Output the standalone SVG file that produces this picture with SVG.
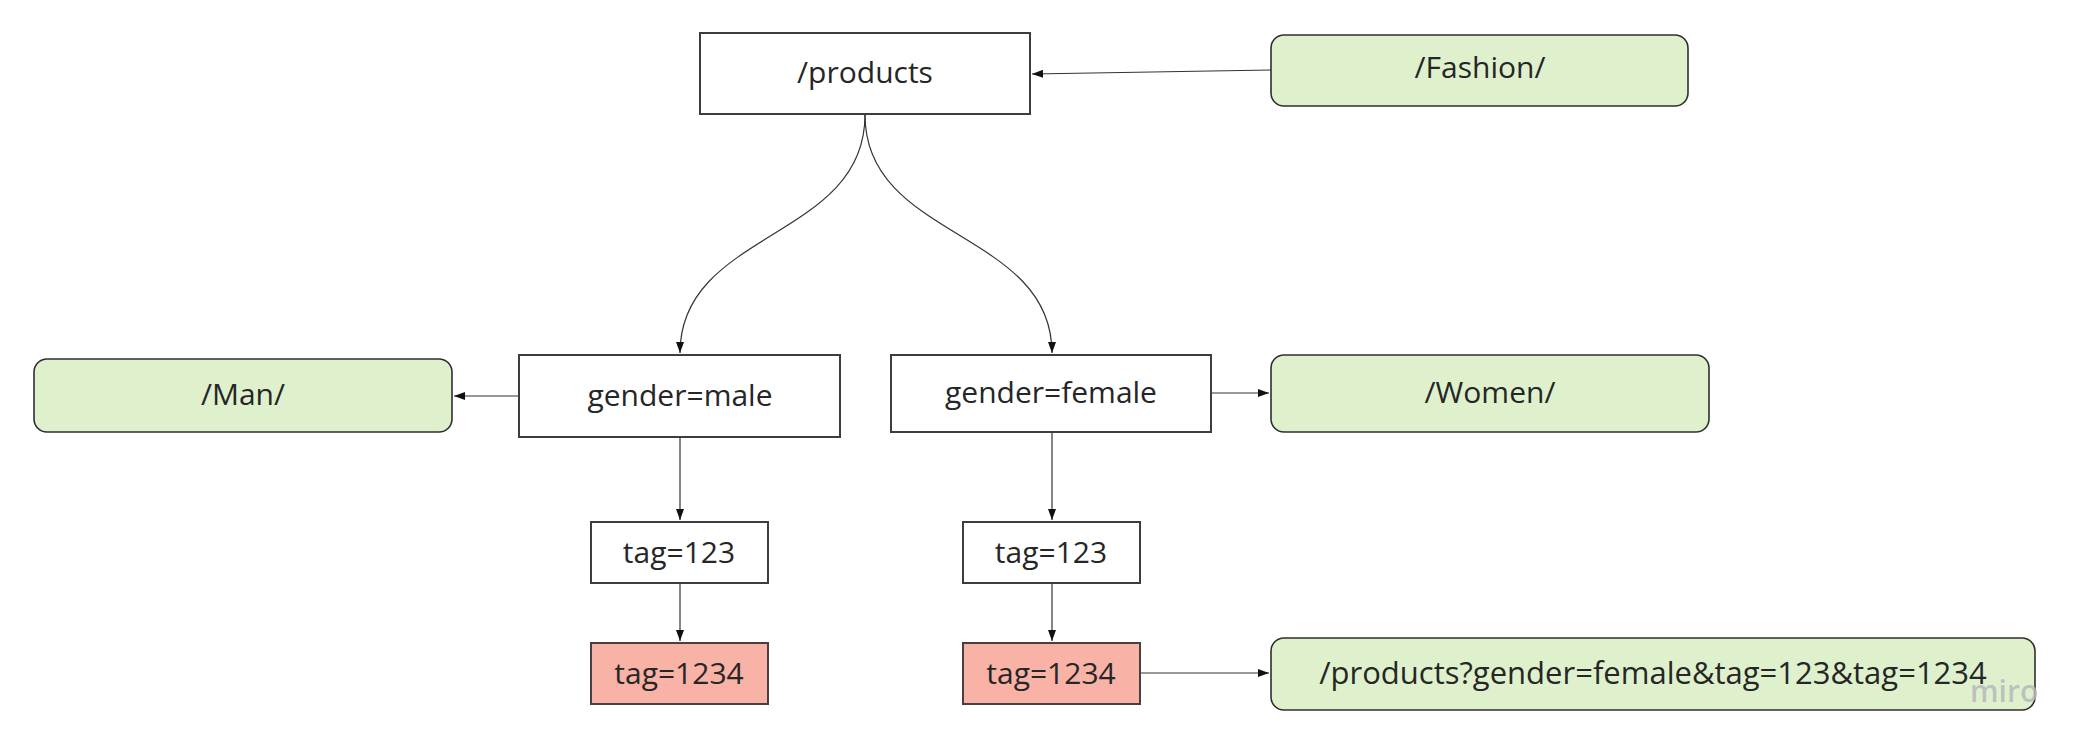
<svg xmlns="http://www.w3.org/2000/svg" width="2083" height="749" viewBox="0 0 2083 749">
<style>
.box{fill:#ffffff;stroke:#3d3d3d;stroke-width:2}
.green{fill:#dff1cc;stroke:#2f2f2f;stroke-width:1.6}
.red{fill:#f8b2a6;stroke:#4a3f3f;stroke-width:2}
.t{font-family:"Open Sans","Noto Sans","Liberation Sans",sans-serif;font-size:30px;fill:#262626;text-anchor:middle;dominant-baseline:central}
.c{fill:none;stroke:#333333;stroke-width:1.2}
.wm{font-family:"Open Sans","Liberation Sans",sans-serif;font-size:30px;font-weight:600;fill:#b5b9bd;fill-opacity:0.85}
</style>
<defs>
<marker id="ah" markerWidth="12" markerHeight="10" refX="11" refY="5" orient="auto" markerUnits="userSpaceOnUse">
<path d="M0,1 L11,5 L0,9 Z" fill="#111111"/>
</marker>
</defs>
<rect width="2083" height="749" fill="#ffffff"/>
<g id="connectors">
<path class="c" d="M1271,70 L1032,74" marker-end="url(#ah)"/>
<path class="c" d="M865,115 C865,240 680,230 680,353" marker-end="url(#ah)"/>
<path class="c" d="M865,115 C865,240 1052,230 1052,353" marker-end="url(#ah)"/>
<path class="c" d="M519,396 L454,396" marker-end="url(#ah)"/>
<path class="c" d="M1212,393 L1269,393" marker-end="url(#ah)"/>
<path class="c" d="M680,437 L680,520" marker-end="url(#ah)"/>
<path class="c" d="M680,583 L680,641" marker-end="url(#ah)"/>
<path class="c" d="M1052,432 L1052,520" marker-end="url(#ah)"/>
<path class="c" d="M1052,583 L1052,641" marker-end="url(#ah)"/>
<path class="c" d="M1140,673 L1269,673" marker-end="url(#ah)"/>
</g>
<g id="products"><rect class="box" x="700" y="33" width="330" height="81"/><text class="t" x="865" y="71">/products</text></g>
<g id="fashion"><rect class="green" x="1271" y="35" width="417" height="71" rx="13"/><text class="t" x="1480" y="66">/Fashion/</text></g>
<g id="man"><rect class="green" x="34" y="359" width="418" height="73" rx="13"/><text class="t" x="243" y="393">/Man/</text></g>
<g id="gender-male"><rect class="box" x="519" y="355" width="321" height="82"/><text class="t" x="680" y="394">gender=male</text></g>
<g id="gender-female"><rect class="box" x="891" y="355" width="320" height="77"/><text class="t" x="1051" y="391">gender=female</text></g>
<g id="women"><rect class="green" x="1271" y="355" width="438" height="77" rx="13"/><text class="t" x="1490" y="391">/Women/</text></g>
<g id="tag123-left"><rect class="box" x="591" y="522" width="177" height="61"/><text class="t" x="679" y="551">tag=123</text></g>
<g id="tag123-right"><rect class="box" x="963" y="522" width="177" height="61"/><text class="t" x="1051" y="551">tag=123</text></g>
<g id="tag1234-left"><rect class="red" x="591" y="643" width="177" height="61"/><text class="t" x="679" y="672">tag=1234</text></g>
<g id="tag1234-right"><rect class="red" x="963" y="643" width="177" height="61"/><text class="t" x="1051" y="672">tag=1234</text></g>
<g id="result"><rect class="green" x="1271" y="638" width="764" height="72" rx="13"/><text class="t" x="1653" y="672" style="font-size:31px">/products?gender=female&amp;tag=123&amp;tag=1234</text></g>
<text class="wm" x="1970" y="702">miro</text>
</svg>
